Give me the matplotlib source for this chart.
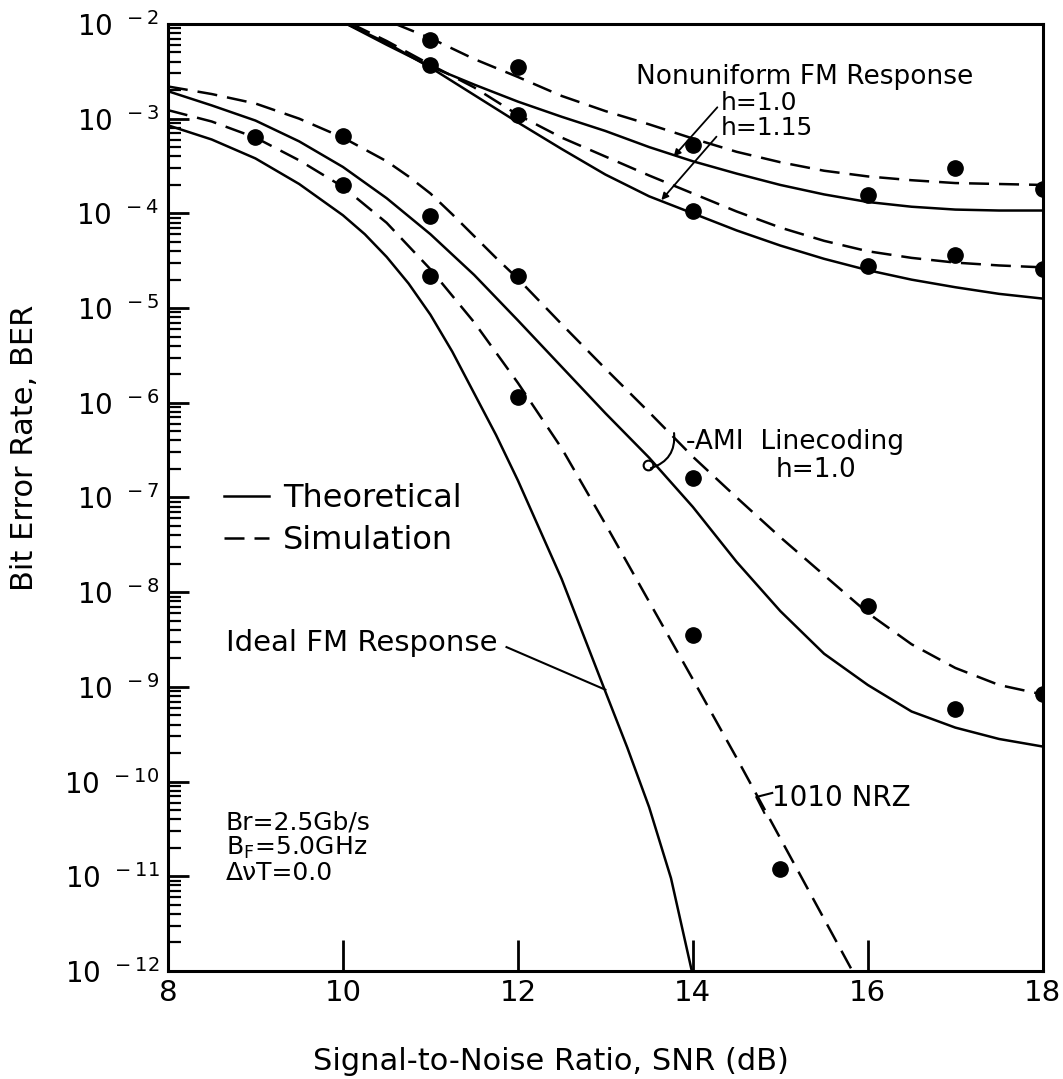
import numpy as np
import matplotlib
matplotlib.use("Agg")
import matplotlib.pyplot as plt
from matplotlib.ticker import FixedLocator, FuncFormatter, LogLocator, NullFormatter

# SNR grid (dB) and log10(BER) read for each curve
snr = [8.0, 8.5, 9.0, 9.5, 10.0, 10.5, 11.0, 11.5, 12.0, 12.5, 13.0, 13.5, 14.0,
       14.5, 15.0, 15.5, 16.0, 16.5, 17.0, 17.5, 18.0]

ideal_theory_x = [8.0, 8.5, 9.0, 9.5, 10.0, 10.25, 10.5, 10.75, 11.0, 11.25, 11.5, 11.75,
                  12.0, 12.5, 13.0, 13.25, 13.5, 13.75, 14.0]
ideal_theory = [-3.07, -3.22, -3.42, -3.69, -4.02, -4.22, -4.46, -4.74, -5.07, -5.46, -5.90,
                -6.34, -6.82, -7.86, -9.05, -9.64, -10.27, -11.02, -12.05]

ideal_sim_x = snr[:17]
ideal_sim = [-2.91, -3.03, -3.20, -3.44, -3.72, -4.10, -4.59, -5.15, -5.79, -6.48, -7.28,
             -8.10, -8.92, -9.75, -10.6, -11.45, -12.3]

ami_theory = [-2.71, -2.86, -3.02, -3.24, -3.51, -3.84, -4.22, -4.65, -5.13, -5.62, -6.11,
              -6.58, -7.10, -7.68, -8.20, -8.65, -8.98, -9.26, -9.43, -9.55, -9.63]

ami_sim_x = [8.0, 8.5, 9.0, 9.5, 10.0, 10.5, 10.75, 11.0, 11.25, 11.5, 11.75, 12.0, 12.5,
             13.0, 13.5, 14.0, 14.5, 15.0, 15.5, 16.0, 16.5, 17.0, 17.5, 18.0]
ami_sim = [-2.66, -2.74, -2.84, -3.00, -3.20, -3.45, -3.61, -3.79, -4.01, -4.24, -4.47,
           -4.69, -5.17, -5.64, -6.10, -6.57, -7.00, -7.42, -7.82, -8.22, -8.55, -8.80,
           -8.98, -9.08]

nu_theory_x = snr[4:]
h10_theory = [-1.98, -2.22, -2.45, -2.64, -2.82, -2.98, -3.13, -3.30, -3.45, -3.58, -3.70,
              -3.80, -3.88, -3.93, -3.96, -3.97, -3.97]
h115_theory = [-1.98, -2.20, -2.46, -2.75, -3.04, -3.32, -3.59, -3.82, -4.00, -4.18, -4.34,
               -4.48, -4.60, -4.70, -4.78, -4.85, -4.90]

h10_sim_x = [10.6] + snr[6:]
h10_sim = [-2.00, -2.15, -2.37, -2.56, -2.76, -2.92, -3.06, -3.21, -3.35, -3.46, -3.55,
           -3.61, -3.65, -3.68, -3.69, -3.70]
h115_sim_x = [10.1] + snr[5:]
h115_sim = [-2.00, -2.18, -2.43, -2.67, -2.96, -3.20, -3.40, -3.60, -3.79, -3.98, -4.15,
            -4.29, -4.40, -4.47, -4.52, -4.55, -4.57]

# simulated BER points
ideal_pts_x = [9, 10, 11, 12, 14, 15]
ideal_pts = [6.4e-4, 2.0e-4, 2.2e-5, 1.15e-6, 3.5e-9, 1.2e-11]
ami_pts_x = [10, 11, 12, 14, 16, 17, 18]
ami_pts = [6.6e-4, 9.3e-5, 2.2e-5, 1.6e-7, 7.2e-9, 5.9e-10, 8.5e-10]
h10_pts_x = [11, 12, 14, 16, 17, 18]
h10_pts = [6.8e-3, 3.5e-3, 5.3e-4, 1.56e-4, 3.0e-4, 1.8e-4]
h115_pts_x = [11, 12, 14, 16, 17, 18]
h115_pts = [3.7e-3, 1.1e-3, 1.07e-4, 2.8e-5, 3.6e-5, 2.6e-5]

plt.rcParams['font.family'] = ['DejaVu Sans']

fig = plt.figure(figsize=(10.63, 10.79), dpi=100)
ax = fig.add_axes([0.158, 0.1001, 0.823, 0.8777])

lw = 1.8
dash = (8, 4)


def ber(v):
    return 10.0 ** np.asarray(v)


ax.plot(ideal_theory_x, ber(ideal_theory), color='black', lw=lw, label='Theoretical')
ax.plot(ideal_sim_x, ber(ideal_sim), color='black', lw=lw, dashes=dash, label='Simulation')
ax.plot(snr, ber(ami_theory), color='black', lw=lw)
ax.plot(ami_sim_x, ber(ami_sim), color='black', lw=lw, dashes=dash)
ax.plot(nu_theory_x, ber(h10_theory), color='black', lw=lw)
ax.plot(nu_theory_x, ber(h115_theory), color='black', lw=lw)
ax.plot(h10_sim_x, ber(h10_sim), color='black', lw=lw, dashes=dash)
ax.plot(h115_sim_x, ber(h115_sim), color='black', lw=lw, dashes=dash)

for px, py in [(ideal_pts_x, ideal_pts), (ami_pts_x, ami_pts),
               (h10_pts_x, h10_pts), (h115_pts_x, h115_pts)]:
    ax.plot(px, py, 'o', color='black', ms=11, zorder=5)

ax.set_yscale('log')
ax.set_xlim(8, 18)
ax.set_ylim(1e-12, 1e-2)

ax.xaxis.set_major_locator(FixedLocator([8, 10, 12, 14, 16, 18]))
ax.yaxis.set_major_locator(LogLocator(base=10, numticks=20))
ax.yaxis.set_minor_locator(LogLocator(base=10, subs=np.arange(2, 10), numticks=20))
ax.yaxis.set_minor_formatter(NullFormatter())
ax.yaxis.set_major_formatter(FuncFormatter(
    lambda v, pos: r"$\mathregular{10^{\;\;%d}}$" % round(np.log10(v))))

ax.tick_params(axis='x', which='major', direction='in', length=22, width=2,
               labelsize=21, pad=6, top=False)
ax.tick_params(axis='y', which='major', direction='in', length=15, width=2,
               labelsize=20, pad=6, right=False)
ax.tick_params(axis='y', which='minor', direction='in', length=9, width=1.6, right=False)
for s in ax.spines.values():
    s.set_linewidth(2.2)

ax.set_xlabel('Signal-to-Noise Ratio, SNR (dB)', fontsize=22, va='top')
ax.xaxis.set_label_coords(0.438, -0.08)
ax.set_ylabel('Bit Error Rate, BER', fontsize=22)
ax.yaxis.set_label_coords(-0.147, 0.552)

ax.legend(loc='upper left', bbox_to_anchor=(0.064, 0.515), frameon=False,
          fontsize=23, handlelength=1.4, handletextpad=0.45, borderpad=0,
          borderaxespad=0, labelspacing=0.33)

# curve labels
ax.text(13.35, 10 ** -2.56, 'Nonuniform FM Response', fontsize=19, va='center')
ax.text(14.32, 10 ** -2.83, 'h=1.0', fontsize=18, va='center')
ax.text(14.32, 10 ** -3.10, 'h=1.15', fontsize=18, va='center')
arrow = dict(arrowstyle='-|>', lw=1.3, color='black', mutation_scale=10, shrinkA=0, shrinkB=0)
ax.annotate('', xy=(13.78, 10 ** -3.40), xytext=(14.28, 10 ** -2.88), arrowprops=arrow)
ax.annotate('', xy=(13.64, 10 ** -3.86), xytext=(14.27, 10 ** -3.19), arrowprops=arrow)

ax.text(13.92, 10 ** -6.41, '-AMI  Linecoding', fontsize=19, va='center')
ax.text(15.41, 10 ** -6.71, 'h=1.0', fontsize=19, va='center', ha='center')
ax.annotate('', xy=(13.52, 10 ** -6.69), xytext=(13.785, 10 ** -6.32),
            arrowprops=dict(arrowstyle='-', lw=1.5, color='black',
                            connectionstyle='arc3,rad=-0.4', shrinkA=0, shrinkB=0))
ax.plot([13.49], [10 ** -6.66], 'o', mfc='white', mec='black', ms=7, mew=1.5)

ax.text(14.91, 10 ** -10.17, '1010 NRZ', fontsize=20, va='center')
ax.plot([14.907, 14.724, 14.816], ber([-10.12, -10.163, -10.33]), color='black', lw=1.5)

ax.text(8.66, 10 ** -8.54, 'Ideal FM Response', fontsize=21, va='center')
ax.plot([11.87, 13.0], ber([-8.58, -9.03]), color='black', lw=1.5)

ax.text(8.66, 10 ** -10.43, 'Br=2.5Gb/s', fontsize=18, va='center')
ax.text(8.66, 10 ** -10.70, r'B$_\mathregular{F}$=5.0GHz', fontsize=18, va='center')
ax.text(8.66, 10 ** -10.97, 'ΔνT=0.0', fontsize=18, va='center')

fig.savefig('out.png', dpi=100)
